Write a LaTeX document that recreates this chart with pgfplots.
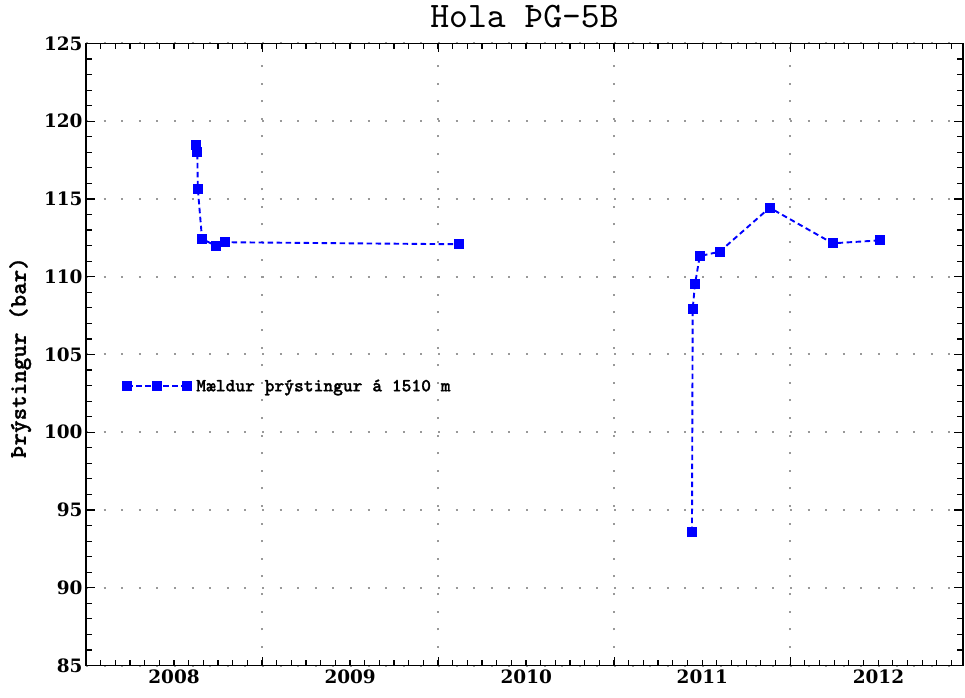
\documentclass[border=0pt]{standalone}
\usepackage{pgfplots}
\pgfplotsset{compat=1.18}
\usepackage{fontspec}
\newfontfamily\titlefont{lmmono10-regular.otf}
\newfontfamily\labelfont{lmmonolt10-bold.otf}[FakeBold=1.2]
\newfontfamily\numfont{DejaVu Serif}

% Measured pressure at 1510 m, well ÞG-5B (decimal year, bar)
\begin{document}
\begin{tikzpicture}
\begin{axis}[
  scale only axis,
  width=877bp, height=622bp,
  at={(0,0)}, anchor=south west,
  xmin=2008, xmax=2012.98,
  ymin=85, ymax=125,
  axis line style={line width=1.4bp, black},
  tick style={line width=1.2bp, black},
  tick align=inside,
  tick pos=both,
  xtick={2009,2010,2011,2012},
  xticklabels={},
  major tick length=9bp,
  minor tick length=6bp,
  minor xtick={2008,2008.083333,...,2012.99},
  extra x ticks={2008.5,2009.5,2010.5,2011.5,2012.5},
  extra x tick labels={2008,2009,2010,2011,2012},
  extra x tick style={major tick length=0pt, grid=none},
  ytick={85,90,...,125},
  minor y tick num=4,
  grid=major,
  major grid style={gray!80, line width=2bp, dash pattern=on 2bp off 15.6bp},
  /pgf/number format/assume math mode=true,
  ticklabel style={font=\numfont\bfseries\fontsize{18.5}{18.5}\selectfont},
  xticklabel style={yshift=-0.5bp},
  title={\titlefont\fontsize{36}{36}\selectfont Hola ÞG-5B},
  title style={at={(axis description cs:0.5,1.033)}, anchor=center},
  ylabel={\labelfont\fontsize{24}{24}\selectfont Þrýstingur (bar)},
  ylabel style={at={(axis description cs:-0.075,0.495)}, anchor=center, rotate=0},
  legend image code/.code={\draw[#1] plot coordinates {(0bp,0bp) (30bp,0bp) (60bp,0bp)};},
  legend style={at={(axis description cs:0.04,0.449)}, anchor=west, draw=none, fill=none,
    font=\labelfont\fontsize{18.7}{18.7}\selectfont, inner sep=2bp,
    /tikz/every odd column/.append style={column sep=3bp}},
  legend cell align=left,
]
\addplot[blue, line width=1.9bp, dash pattern=on 5.5bp off 3.5bp,
  mark=square*, mark size=4bp, mark options={solid, fill=blue, draw=blue}]
  coordinates {
  (2008.623,118.47) (2008.632,118.00) (2008.635,115.64) (2008.659,112.43)
  (2008.737,112.00) (2008.788,112.22) (2010.119,112.09)
  };
\addlegendentry{Mældur þrýstingur á 1510 m}
\addplot[blue, line width=1.9bp, dash pattern=on 5.5bp off 3.5bp,
  mark=square*, mark size=4bp, mark options={solid, fill=blue, draw=blue},
  forget plot]
  coordinates {
  (2011.441,93.57) (2011.445,107.93) (2011.458,109.51) (2011.485,111.33)
  (2011.598,111.61) (2011.882,114.44) (2012.240,112.15) (2012.507,112.34)
  };
\end{axis}
\pgfresetboundingbox
\path[use as bounding box] (-86bp,-32.5bp) rectangle (879bp,665.5bp);
\end{tikzpicture}
\end{document}
